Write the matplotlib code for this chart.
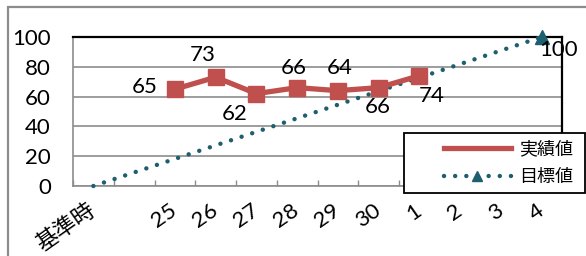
import numpy as np
import matplotlib
matplotlib.use('Agg')
from matplotlib import pyplot as plt
from matplotlib.patches import Rectangle

plt.rcParams['font.family'] = ['Lato', 'Noto Sans CJK JP', 'DejaVu Sans']

# categories (one unlabeled slot after the baseline)
categories = ['基準時', '', '25', '26', '27', '28', '29', '30', '1', '2', '3', '4']
actual = [np.nan, np.nan, 65, 73, 62, 66, 64, 66, 74, np.nan, np.nan, np.nan]
target = [0, np.nan, np.nan, np.nan, np.nan, np.nan, np.nan, np.nan, np.nan, np.nan, np.nan, 100]
yticks = [0, 20, 40, 60, 80, 100]

# data label offsets in pixels (layout only)
actual_offsets = [None, None, (-30, 2), (-13, 22), (-22, -20), (-3, 20),
                  (2, 23), (-1, -19), (12, -20), None, None, None]
target_offsets = [None] * 11 + [(17, -13)]

RED = '#C0504D'
TEAL = '#1D5F6E'
DOTS = (0, (0.01, 2.5))

fig = plt.figure(figsize=(5.86, 2.56), dpi=100)
W, H = 586, 256

# outer chart frame
fig.add_artist(Rectangle((8 / W, -0.1), 2.0, 1 - 7 / H + 0.1, transform=fig.transFigure,
                         fill=False, edgecolor='#8c8c8c', linewidth=1.6))

ax = fig.add_axes([73 / W, 1 - 186 / H, (562 - 73) / W, (186 - 37) / H])
x = np.arange(len(categories))

ax.set_xlim(-0.5, len(categories) - 0.5)
ax.set_ylim(0, 100)
ax.set_yticks(yticks)
ax.yaxis.grid(True, color='#8c8c8c', linewidth=1.2)
ax.set_axisbelow(True)
ax.tick_params(axis='y', length=0, pad=16, labelsize=16)

ax.set_xticks(x)
ax.set_xticklabels(categories, rotation=35, ha='right', rotation_mode='anchor', va='center')
ax.tick_params(axis='x', length=0, pad=16, labelsize=16)
ax.set_xticks(np.arange(len(categories) + 1) - 0.5, minor=True)
ax.tick_params(axis='x', which='minor', direction='in', length=4, width=1, color='#8c8c8c')

for s in ['left', 'bottom']:
    ax.spines[s].set_color('#8c8c8c')
    ax.spines[s].set_linewidth(1.2)
for s in ['top', 'right']:
    ax.spines[s].set_color('black')
    ax.spines[s].set_linewidth(1.6)

# target: connect the defined points
t = np.array(target, dtype=float)
tm = ~np.isnan(t)
ax.plot(x[tm], t[tm], color=TEAL, linestyle=DOTS, linewidth=3.2,
        dash_capstyle='round', marker='^', markersize=10, markevery=[len(x[tm]) - 1],
        clip_on=False, zorder=3)

a = np.array(actual, dtype=float)
ax.plot(x, a, color=RED, linewidth=3.8, marker='s', markersize=12, zorder=4)

for i, v in enumerate(actual):
    if actual_offsets[i] is not None:
        ax.annotate(f'{v:g}', (x[i], v), xytext=actual_offsets[i], textcoords='offset pixels',
                    ha='center', va='center', fontsize=16)
for i, v in enumerate(target):
    if target_offsets[i] is not None:
        ax.annotate(f'{v:g}', (x[i], v), xytext=target_offsets[i], textcoords='offset pixels',
                    ha='center', va='center', fontsize=16, annotation_clip=False)

# legend box
fig.add_artist(Rectangle((404 / W, 1 - 193 / H), (585 - 404) / W, 60 / H, transform=fig.transFigure,
                         facecolor='white', edgecolor='black', linewidth=1.3, zorder=5))
h1, = ax.plot([], [], color=RED, linewidth=3.8, marker='s', markersize=0)
h2, = ax.plot([], [], color=TEAL, linestyle=DOTS, linewidth=3.2,
              dash_capstyle='round', marker='^', markersize=7)
leg = fig.legend([h1, h2], ['実績値', '目標値'], loc='center left',
                 bbox_to_anchor=(435 / W, 1 - 163 / H), frameon=False, fontsize=13,
                 borderpad=0, handlelength=3.7, handletextpad=0.45, labelspacing=0.65)
leg.set_zorder(6)

fig.savefig('out.png', dpi=100)
